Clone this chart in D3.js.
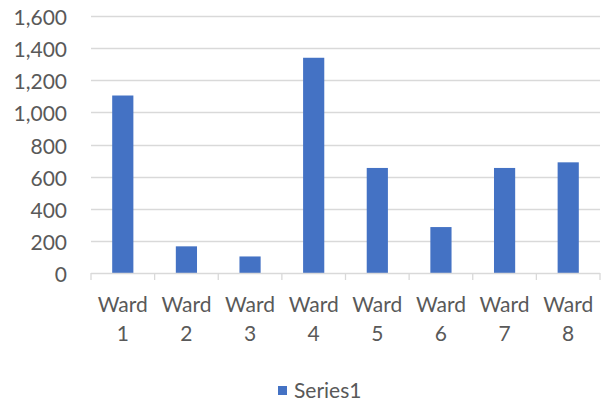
<!DOCTYPE html>
<html><head><meta charset="utf-8">
<script src="https://cdn.jsdelivr.net/npm/d3@7"></script>
<style>body{margin:0;background:#fff}svg{display:block}</style>
</head><body>
<script>
const categories = ["Ward 1","Ward 2","Ward 3","Ward 4","Ward 5","Ward 6","Ward 7","Ward 8"];
const series1 = [1105, 166, 103, 1340, 654, 286, 654, 689];
const yTicks = [0,200,400,600,800,1000,1200,1400,1600];
const seriesName = "Series1";

(function(){
const W=604,H=403;
const pLeft=91,pRight=600,pTop=16,pBottom=273;
const font="Lato, 'Open Sans', sans-serif";
const fs=21;
const svg=d3.select("body").append("svg").attr("width",W).attr("height",H);
const x=d3.scaleBand().domain(categories).range([pLeft,pRight]).paddingInner(0.667).paddingOuter(0.333);
const xb=d3.scaleBand().domain(categories).range([pLeft,pRight]);
const y=d3.scaleLinear().domain([0,1600]).range([pBottom,pTop]);

svg.append("g").selectAll("line").data(yTicks.filter(d=>d>0)).join("line")
 .attr("x1",pLeft).attr("x2",pRight).attr("y1",d=>Math.round(y(d))+0.5).attr("y2",d=>Math.round(y(d))+0.5)
 .attr("stroke","#d9d9d9").attr("stroke-width",1.3);

svg.append("g").selectAll("text").data(yTicks).join("text")
 .attr("x",67).attr("y",d=>y(d)+9).attr("text-anchor","end")
 .attr("font-family",font).attr("font-size",fs).attr("fill","#595959")
 .text(d3.format(","));

svg.append("g").selectAll("rect").data(series1).join("rect")
 .attr("x",(d,i)=>x(categories[i])).attr("width",x.bandwidth())
 .attr("y",d=>y(d)).attr("height",d=>y(0)-y(d)).attr("fill","#4472c4");

svg.append("line").attr("x1",pLeft).attr("x2",pRight).attr("y1",pBottom+0.5).attr("y2",pBottom+0.5).attr("stroke","#d9d9d9").attr("stroke-width",1.3);
const tickX=categories.map(c=>xb(c)).concat([pRight]);
svg.append("g").selectAll("line").data(tickX).join("line")
 .attr("x1",d=>d).attr("x2",d=>d).attr("y1",pBottom).attr("y2",pBottom+7).attr("stroke","#d9d9d9").attr("stroke-width",1.3);

const lab=svg.append("g").selectAll("text").data(categories).join("text")
 .attr("text-anchor","middle").attr("font-family",font).attr("font-size",fs).attr("fill","#595959");
lab.each(function(c){
  const parts=c.split(" ");
  const cx=xb(c)+xb.bandwidth()/2;
  d3.select(this).selectAll("tspan").data(parts).join("tspan")
   .attr("x",cx).attr("y",(d,i)=>312+i*29).text(d=>d);
});

svg.append("rect").attr("x",278).attr("y",386).attr("width",9).attr("height",9).attr("fill","#4472c4");
svg.append("text").attr("x",294).attr("y",398).attr("font-family",font).attr("font-size",fs).attr("fill","#595959").text(seriesName);
})();
</script>
</body></html>
